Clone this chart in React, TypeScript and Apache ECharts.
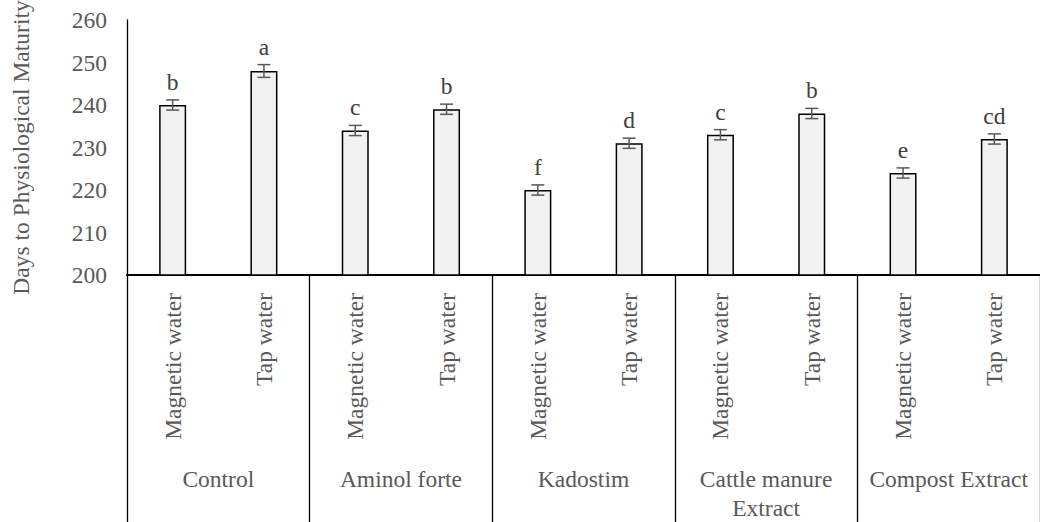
import React, { useEffect, useRef } from "react";
import * as echarts from "echarts";

const groups = ["Control", "Aminol forte", "Kadostim", "Cattle manure\nExtract", "Compost Extract"];
const waterTypes = ["Magnetic water", "Tap water"];
const magneticValues = [240, 234, 220, 233, 224];
const tapValues = [248, 239, 231, 238, 232];
const magneticErrors = [1.2, 1.2, 1.2, 1.2, 1.2];
const tapErrors = [1.5, 1.2, 1.2, 1.2, 1.2];
const magneticLetters = ["b", "c", "f", "c", "e"];
const tapLetters = ["a", "b", "d", "b", "cd"];
const yMin = 200;
const yMax = 260;
const yStep = 10;

const FONT = "Liberation Serif, Times New Roman, serif";
const GREY = "#595959";
const FS = 23.5;

export default function App() {
  const ref = useRef<HTMLDivElement>(null);
  useEffect(() => {
    if (!ref.current) return;
    const chart = echarts.init(ref.current, undefined, { renderer: "svg" });

    const categories: string[] = [];
    const values: number[] = [];
    const errors: number[] = [];
    const letters: string[] = [];
    groups.forEach((_, g) => {
      categories.push(waterTypes[0]);
      values.push(magneticValues[g]);
      errors.push(magneticErrors[g]);
      letters.push(magneticLetters[g]);
      categories.push(waterTypes[1]);
      values.push(tapValues[g]);
      errors.push(tapErrors[g]);
      letters.push(tapLetters[g]);
    });
    const errData = values.map((v, i) => [i, v, v - errors[i], v + errors[i]]);

    chart.setOption({
      animation: false,
      grid: { left: 127, right: 0, top: 20, bottom: 247, containLabel: false, outerBoundsMode: "none" },
      xAxis: [
        {
          type: "category",
          data: categories,
          position: "bottom",
          axisLine: { show: true, lineStyle: { color: "#000", width: 2 } },
          axisTick: { show: false },
          axisLabel: {
            interval: 0,
            rotate: 90,
            margin: 18,
            color: GREY,
            fontFamily: FONT,
            fontSize: FS,
          },
        },
        {
          type: "category",
          data: groups,
          position: "bottom",
          axisLine: { show: false },
          axisTick: { show: true, length: 250, interval: 0, lineStyle: { color: "#000", width: 1.3 } },
          axisLabel: {
            interval: 0,
            margin: 189,
            color: GREY,
            fontFamily: FONT,
            fontSize: FS,
            lineHeight: 29,
          },
        },
      ],
      yAxis: {
        type: "value",
        min: yMin,
        max: yMax,
        interval: yStep,
        name: "Days to Physiological Maturity",
        nameLocation: "middle",
        nameRotate: 90,
        nameGap: 94,
        nameTextStyle: { color: GREY, fontFamily: FONT, fontSize: FS },
        axisLine: { show: true, lineStyle: { color: "#000", width: 1.3 } },
        axisTick: { show: false },
        splitLine: { show: false },
        axisLabel: { margin: 20, color: GREY, fontFamily: FONT, fontSize: FS },
      },
      series: [
        {
          type: "bar",
          xAxisIndex: 0,
          data: values,
          barWidth: 27,
          itemStyle: { color: "#f2f2f2", borderColor: "#000", borderWidth: 1.5 },
        },
        {
          type: "custom",
          xAxisIndex: 0,
          data: errData,
          encode: { x: 0, y: [1, 2, 3] },
          z: 5,
          renderItem: (params: any, api: any) => {
            const i = params.dataIndex;
            const low = api.coord([api.value(0), api.value(2)]);
            const high = api.coord([api.value(0), api.value(3)]);
            const x = high[0];
            const half = 6.5;
            const style = { stroke: GREY, lineWidth: 1.5 };
            return {
              type: "group",
              children: [
                { type: "line", shape: { x1: x, y1: low[1], x2: x, y2: high[1] }, style },
                { type: "line", shape: { x1: x - half, y1: low[1], x2: x + half, y2: low[1] }, style },
                { type: "line", shape: { x1: x - half, y1: high[1], x2: x + half, y2: high[1] }, style },
                {
                  type: "text",
                  x: x,
                  y: high[1] - 6,
                  style: {
                    text: letters[i],
                    fill: "#404040",
                    fontFamily: FONT,
                    fontSize: FS,
                    align: "center",
                    verticalAlign: "bottom",
                  },
                },
              ],
            };
          },
        },
      ],
    });
    return () => chart.dispose();
  }, []);
  return (
    <div
      ref={ref}
      style={{ position: "fixed", left: 0, top: 0, width: 1040, height: 522, background: "#fff" }}
    />
  );
}
